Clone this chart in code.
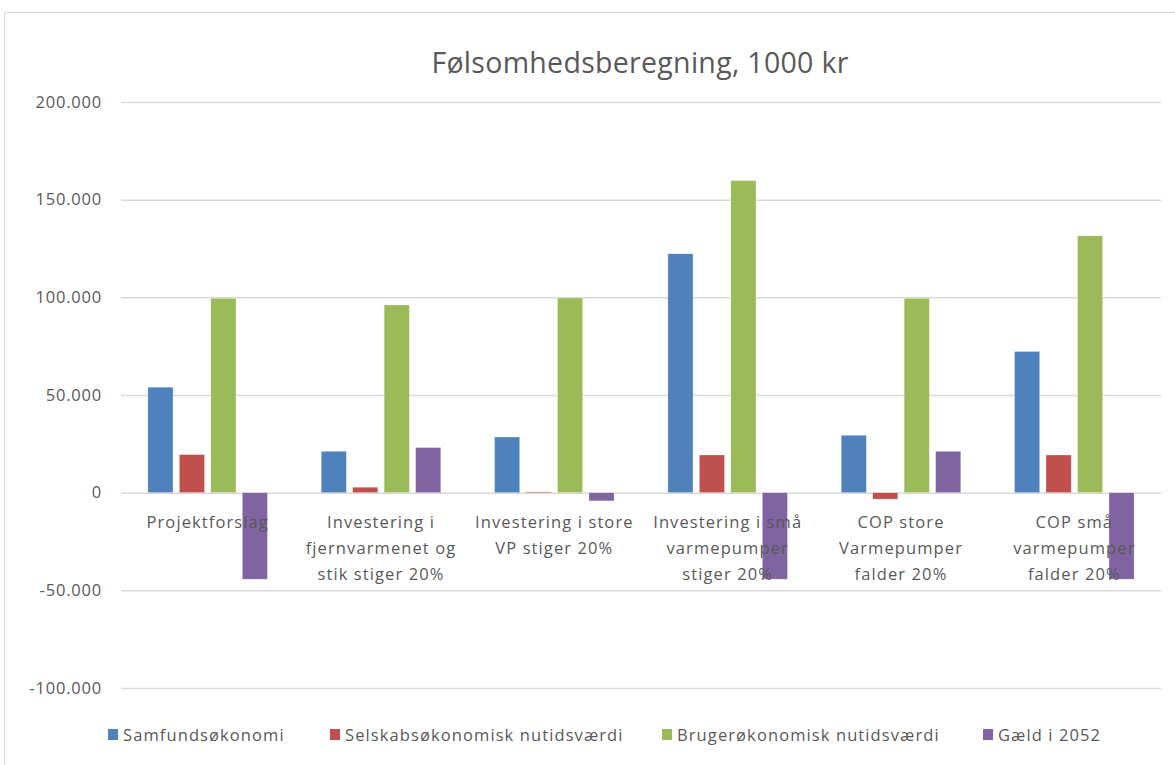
<!DOCTYPE html>
<html>
<head>
<meta charset="utf-8">
<script src="https://cdn.jsdelivr.net/npm/d3@7"></script>
<style>
	body { margin: 0; background: #fff; }
	svg { display: block; }
</style>
</head>
<body>
<div id="container"></div>
<script>
const categories = [
	["Projektforslag"],
	["Investering i", "fjernvarmenet og", "stik stiger 20%"],
	["Investering i store", "VP stiger 20%"],
	["Investering i små", "varmepumper", "stiger 20%"],
	["COP store", "Varmepumper", "falder 20%"],
	["COP små", "varmepumper", "falder 20%"],
];
const seriesNames = [
	"Samfundsøkonomi",
	"Selskabsøkonomisk nutidsværdi",
	"Brugerøkonomisk nutidsværdi",
	"Gæld i 2052",
];
const samfund = [54000, 21200, 28500, 122300, 29400, 72300];
const selskab = [19500, 2800, 400, 19300, -3300, 19300];
const bruger = [99500, 96100, 99700, 159800, 99500, 131500];
const gaeld = [-44300, 23100, -4200, -44300, 21200, -44300];
const yTicks = [-100000, -50000, 0, 50000, 100000, 150000, 200000];
const colors = ["#4f81bd", "#c0504d", "#9bbb59", "#8064a2"];

const seriesValues = [samfund, selskab, bruger, gaeld];

drawChart();

function drawChart() {
	const width = 1175;
	const height = 765;
	const margin = { top: 102, right: 14, bottom: 77, left: 121 };
	const font = "'Open Sans', sans-serif";
	const textColor = "#595959";

	const svg = d3
		.select("#container")
		.append("svg")
		.attr("width", width)
		.attr("height", height);

	// chart frame
	svg.append("path")
		.attr("d", `M4.5,${height}V12.5H${width}`)
		.attr("fill", "none")
		.attr("stroke", "#d9d9d9");

	const x0 = d3
		.scaleBand()
		.domain(d3.range(categories.length))
		.range([margin.left, width - margin.right]);

	const pad = x0.bandwidth() * 0.155;
	const x1 = d3
		.scaleBand()
		.domain(d3.range(seriesNames.length))
		.range([pad, x0.bandwidth() - pad])
		.paddingInner(0.2);

	const y = d3
		.scaleLinear()
		.domain([-100000, 200000])
		.range([height - margin.bottom, margin.top]);

	const locale = d3.formatLocale({
		decimal: ",",
		thousands: ".",
		grouping: [3],
		currency: ["", ""],
		minus: "-",
	});
	const fmt = locale.format(",");

	const yAxis = d3
		.axisLeft(y)
		.tickValues(yTicks)
		.tickFormat(fmt)
		.tickSize(-(width - margin.left - margin.right))
		.tickPadding(19);

	const gy = svg
		.append("g")
		.attr("class", "y-axis")
		.attr("transform", `translate(${margin.left}, 0)`)
		.call(yAxis);
	gy.select(".domain").remove();
	gy.selectAll(".tick line").attr("stroke", "#d9d9d9").attr("stroke-width", 1.5);
	gy.selectAll(".tick text")
		.attr("fill", textColor)
		.style("font-family", font)
		.style("font-size", "16.5px")
		.style("letter-spacing", "0.8px");

	// bars
	const rows = [];
	categories.forEach((c, i) => {
		seriesValues.forEach((vals, s) => rows.push({ cat: i, s: s, value: vals[i] }));
	});

	svg.append("g")
		.attr("class", "bars")
		.selectAll("rect")
		.data(rows)
		.enter()
		.append("rect")
		.attr("x", (d) => x0(d.cat) + x1(d.s))
		.attr("width", x1.bandwidth())
		.attr("y", (d) => y(Math.max(0, d.value)))
		.attr("height", (d) => Math.abs(y(d.value) - y(0)))
		.attr("fill", (d) => colors[d.s])
		.attr("stroke", "#ffffff")
		.attr("stroke-opacity", 0.5)
		.attr("stroke-width", 0.6);

	// category labels
	const labels = svg.append("g").attr("class", "x-labels");
	categories.forEach((lines, i) => {
		const t = labels
			.append("text")
			.attr("x", x0(i) + x0.bandwidth() / 2)
			.attr("y", y(0) + 35)
			.attr("text-anchor", "middle")
			.attr("fill", textColor)
			.style("font-family", font)
			.style("font-size", "16.5px")
			.style("letter-spacing", "1.1px");
		lines.forEach((l, k) => {
			t.append("tspan")
				.attr("x", x0(i) + x0.bandwidth() / 2)
				.attr("dy", k === 0 ? 0 : 26)
				.text(l);
		});
	});

	// title
	svg.append("text")
		.attr("x", 640)
		.attr("y", 73)
		.attr("text-anchor", "middle")
		.attr("fill", textColor)
		.style("font-family", font)
		.style("font-size", "28.5px")
		.style("letter-spacing", "0.3px")
		.text("Følsomhedsberegning, 1000 kr");

	// legend
	const legendX = [108, 330, 662, 983];
	const legend = svg
		.append("g")
		.attr("class", "legend")
		.selectAll("g")
		.data(seriesNames)
		.enter()
		.append("g")
		.attr("transform", (d, i) => `translate(${legendX[i]}, 735)`);
	legend.append("rect")
		.attr("x", 0)
		.attr("y", -6)
		.attr("width", 10)
		.attr("height", 11)
		.attr("fill", (d, i) => colors[i]);
	legend.append("text")
		.attr("x", 15)
		.attr("y", 6)
		.attr("fill", textColor)
		.style("font-family", font)
		.style("font-size", "16.5px")
		.style("letter-spacing", "1.1px")
		.text((d) => d);
}
</script>
</body>
</html>
